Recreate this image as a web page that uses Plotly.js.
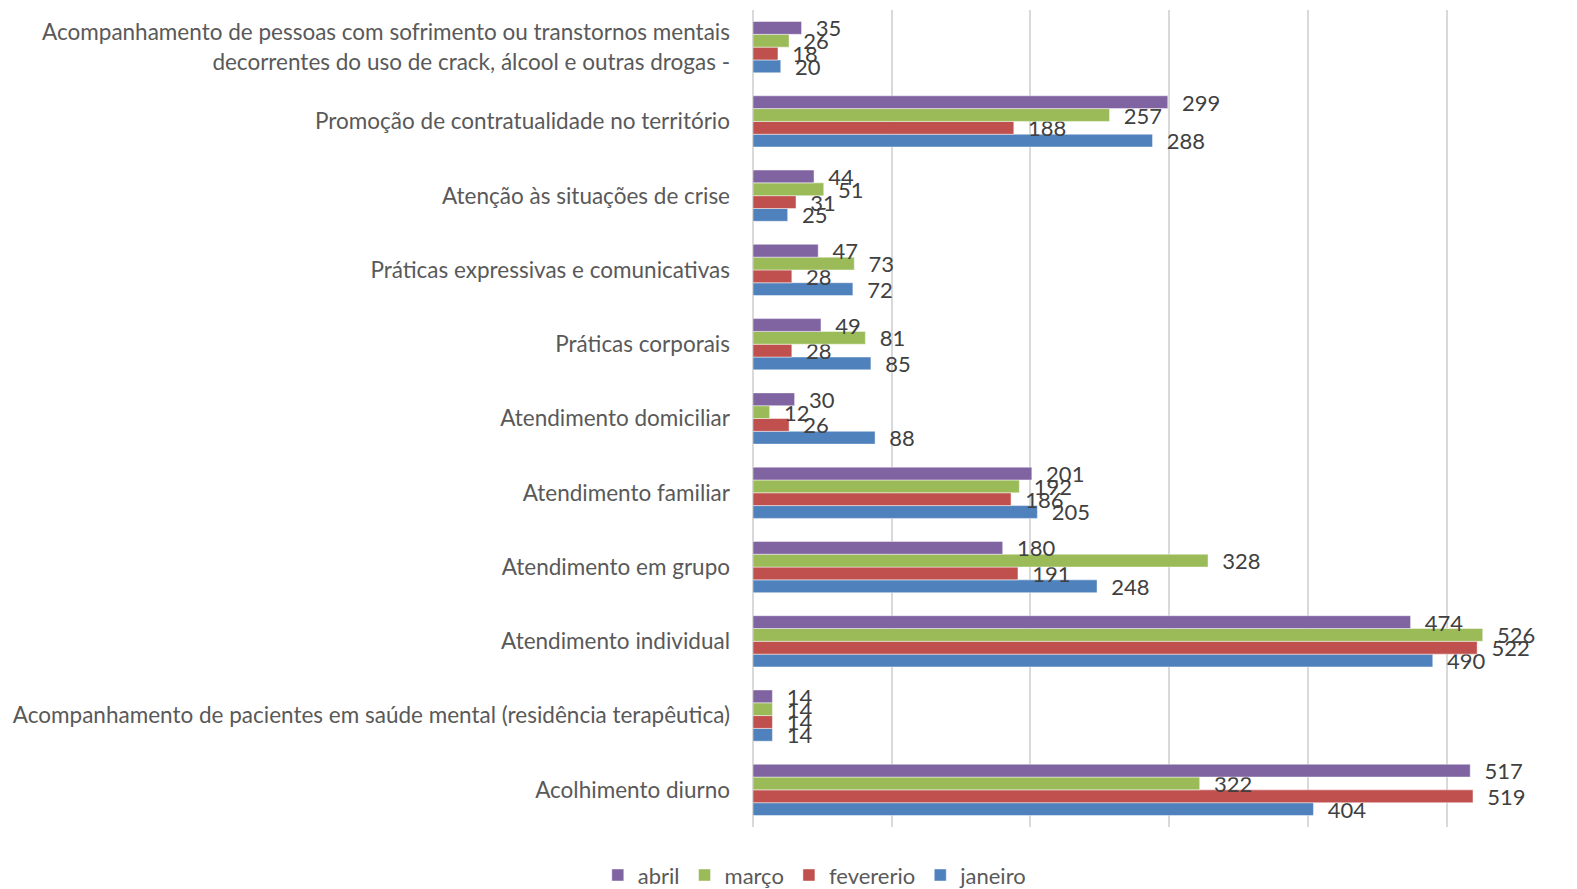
<!DOCTYPE html>
<html>
<head>
<meta charset="utf-8">
<script src="https://cdn.plot.ly/plotly-3.0.1.min.js"></script>
<style>html,body{margin:0;padding:0;background:#fff;}#chart{width:1577px;height:889px;}</style>
</head>
<body>
<div id="chart"></div>
<script>
// Categories listed bottom to top
const categories = [
  "Acolhimento diurno",
  "Acompanhamento de pacientes em saúde mental (residência terapêutica)",
  "Atendimento individual",
  "Atendimento em grupo",
  "Atendimento familiar",
  "Atendimento domiciliar",
  "Práticas corporais",
  "Práticas expressivas e comunicativas",
  "Atenção às situações de crise",
  "Promoção de contratualidade no território",
  "Acompanhamento de pessoas com sofrimento ou transtornos mentais<br>decorrentes do uso de crack, álcool e outras drogas -"
];
const janeiro   = [404, 14, 490, 248, 205, 88, 85, 72, 25, 288, 20];
const fevereiro = [519, 14, 522, 191, 186, 26, 28, 28, 31, 188, 18];
const marco     = [322, 14, 526, 328, 192, 12, 81, 73, 51, 257, 26];
const abril     = [517, 14, 474, 180, 201, 30, 49, 47, 44, 299, 35];

const seriesNames = ["janeiro", "fevererio", "março", "abril"];
const seriesValues = [janeiro, fevereiro, marco, abril];
const seriesColors = ["#4F81BD", "#C0504D", "#9BBB59", "#8064A2"];

const FONT = "Lato, 'Open Sans', sans-serif";

const traces = seriesValues.map((vals, i) => ({
  type: "bar",
  orientation: "h",
  name: seriesNames[i],
  y: categories,
  x: vals,
  marker: { color: seriesColors[i], line: { color: "rgba(255,255,255,0.45)", width: 1 } },
  text: vals.map(v => "\u00a0\u00a0" + v),
  textposition: "outside",
  texttemplate: "%{text}",
  constraintext: "none",
  cliponaxis: false,
  textfont: { family: FONT, size: 22, color: "#404040" },
  hoverinfo: "x+name"
}));

const layout = {
  width: 1577,
  height: 889,
  margin: { l: 753, r: 61, t: 10, b: 62, autoexpand: false },
  paper_bgcolor: "#ffffff",
  plot_bgcolor: "#ffffff",
  barmode: "group",
  bargap: 0.31,
  bargroupgap: 0,
  font: { family: FONT, size: 20, color: "#595959" },
  xaxis: {
    range: [0, 550],
    dtick: 100,
    showticklabels: false,
    showgrid: true,
    gridcolor: "#d9d9d9",
    gridwidth: 2,
    zeroline: true,
    zerolinecolor: "#d9d9d9",
    zerolinewidth: 2,
    showline: false,
    ticks: ""
  },
  yaxis: {
    type: "category",
    automargin: false,
    showgrid: false,
    zeroline: false,
    showline: false,
    ticks: "",
    ticklabelstandoff: 22,
    tickfont: { family: FONT, size: 22.5, color: "#595959" }
  },
  showlegend: true,
  legend: {
    orientation: "h",
    traceorder: "reversed",
    x: 0.081,
    xanchor: "center",
    y: -0.059,
    yanchor: "middle",
    font: { family: FONT, size: 22, color: "#595959" },
    itemwidth: 30
  }
};

Plotly.newPlot("chart", traces, layout, { displayModeBar: false, staticPlot: true });
</script>
</body>
</html>
